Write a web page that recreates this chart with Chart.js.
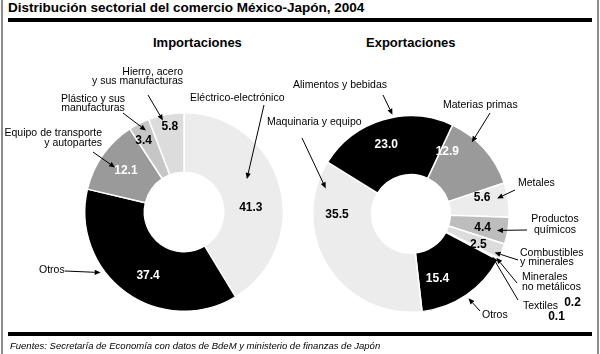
<!DOCTYPE html>
<html lang="es">
<head>
<meta charset="utf-8">
<title>Distribución sectorial del comercio México-Japón, 2004</title>
<script src="https://cdn.jsdelivr.net/npm/chart.js@4.4.1/dist/chart.umd.min.js"></script>
<style>
  html, body { margin: 0; padding: 0; background: #fff; }
  #page { position: relative; width: 600px; height: 354px; overflow: hidden; font-family: "Liberation Sans", Arial, sans-serif; color: #000; }
  #page canvas { position: absolute; left: 0; top: 0; }
  .vline { position: absolute; top: 0; width: 2px; height: 354px; background: #8c8c8c; }
  .rule { position: absolute; left: 8px; width: 584px; height: 4px; background: #000; }
  .txt { position: absolute; white-space: nowrap; line-height: 1; }
  .sub { font-weight: bold; font-size: 13px; top: 36px; }
</style>
</head>
<body>
<div id="page">
  <div class="vline" style="left:1px"></div>
  <div class="vline" style="left:597px"></div>
  <div class="txt" style="left:8px;top:1px;font-weight:bold;font-size:13.5px">Distribución sectorial del comercio México-Japón, 2004</div>
  <div class="rule" style="top:18px"></div>
  <div class="txt sub" style="left:153px">Importaciones</div>
  <div class="txt sub" style="left:366px">Exportaciones</div>
  <canvas id="imp" width="600" height="354"></canvas>
  <canvas id="exp" width="600" height="354"></canvas>
  <div class="rule" style="top:332px"></div>
  <div class="txt" style="left:10px;top:341px;font-style:italic;font-size:9.5px">Fuentes: Secretaría de Economía con datos de BdeM y ministerio de finanzas de Japón</div>
</div>
<script>
// Importaciones, clockwise from 12 o'clock (%)
const impLabels = [
    ['Eléctrico-electrónico'],
    ['Otros'],
    ['Equipo de transporte', 'y autopartes'],
    ['Plástico y sus', 'manufacturas'],
    ['Hierro, acero', 'y sus manufacturas']
]
const impValues = [41.3, 37.4, 12.1, 3.4, 5.8]

// Exportaciones, clockwise (%)
const expLabels = [
    ['Materias primas'],
    ['Metales'],
    ['Productos', 'químicos'],
    ['Combustibles', 'y minerales'],
    ['Minerales', 'no metálicos'],
    ['Textiles'],
    ['Otros'],
    ['Maquinaria y equipo'],
    ['Alimentos y bebidas']
]
const expValues = [12.9, 5.6, 4.4, 2.5, 0.2, 0.1, 15.4, 35.5, 23.0]

const impColors = ['#ececec', '#000000', '#9a9a9a', '#c6c6c6', '#dcdcdc']
const expColors = ['#9a9a9a', '#ececec', '#bdbdbd', '#dcdcdc', '#a8a8a8', '#707070', '#000000', '#ececec', '#000000']

const FONT = '"Liberation Sans", Arial, sans-serif'

// point at the middle angle of an arc, shifted by da degrees, at radius r
function arcPoint(arc, da, r) {
    const p = arc.getProps(['x', 'y', 'startAngle', 'endAngle'], true)
    const a = (p.startAngle + p.endAngle) / 2 + da * Math.PI / 180
    return {x: p.x + r * Math.cos(a), y: p.y + r * Math.sin(a)}
}

function arrow(ctx, x0, y0, x1, y1) {
    const a = Math.atan2(y1 - y0, x1 - x0)
    const len = 6, w = 2.6
    const bx = x1 - len * Math.cos(a), by = y1 - len * Math.sin(a)
    ctx.beginPath()
    ctx.moveTo(x0, y0)
    ctx.lineTo(bx, by)
    ctx.stroke()
    ctx.beginPath()
    ctx.moveTo(x1, y1)
    ctx.lineTo(bx - w * Math.sin(a), by + w * Math.cos(a))
    ctx.lineTo(bx + w * Math.sin(a), by - w * Math.cos(a))
    ctx.closePath()
    ctx.fill()
}

function callouts(layout) {
    return {
        id: 'callouts',
        afterDatasetsDraw(chart) {
            const ctx = chart.ctx
            const arcs = chart.getDatasetMeta(0).data
            const vals = chart.data.datasets[0].data
            const labels = chart.data.labels
            ctx.save()
            ctx.textBaseline = 'middle'
            ctx.textAlign = 'center'
            ctx.font = 'bold 12px ' + FONT
            layout.inside.forEach(s => {
                const p = arcPoint(arcs[s.i], s.da, s.r)
                ctx.fillStyle = s.color
                ctx.fillText(vals[s.i].toFixed(1), p.x, p.y)
            })
            ctx.fillStyle = '#000'
            ctx.strokeStyle = '#000'
            ctx.lineWidth = 1
            layout.notes.forEach(n => {
                ctx.font = '10.5px ' + FONT
                ctx.textAlign = n.align || 'left'
                labels[n.i].forEach((t, k) => ctx.fillText(t, n.x, n.y + k * (n.lh || 10)))
                const tip = arcPoint(arcs[n.i], n.da, n.r)
                arrow(ctx, n.tail[0], n.tail[1], tip.x, tip.y)
                if (n.value) {
                    ctx.font = 'bold 12px ' + FONT
                    ctx.textAlign = 'center'
                    ctx.fillText(vals[n.i].toFixed(1), n.value[0], n.value[1])
                }
            })
            ctx.restore()
        }
    }
}

const impLayout = {
    inside: [
        {i: 0, da: 12, r: 67, color: '#000'},
        {i: 1, da: -6.5, r: 73, color: '#fff'},
        {i: 2, da: 0, r: 71, color: '#fff'},
        {i: 3, da: -2.5, r: 82, color: '#000'},
        {i: 4, da: 1, r: 86, color: '#000'}
    ],
    notes: [
        {i: 0, x: 190, y: 98, tail: [264, 105], da: -12, r: 71},
        {i: 1, x: 39, y: 270, tail: [65, 271], da: 18, r: 103},
        {i: 2, x: 102, y: 133, align: 'right', tail: [93, 152], da: -2.3, r: 82},
        {i: 3, x: 93, y: 99, align: 'center', lh: 9.5, tail: [123, 113], da: 2, r: 90},
        {i: 4, x: 183, y: 72, align: 'right', lh: 9.5, tail: [148, 95], da: -2.5, r: 94}
    ]
}

const expLayout = {
    inside: [
        {i: 0, da: -18, r: 72, color: '#fff'},
        {i: 1, da: -5, r: 73, color: '#000'},
        {i: 2, da: 1, r: 73, color: '#000'},
        {i: 3, da: 2, r: 74, color: '#000'},
        {i: 6, da: 12, r: 70, color: '#fff'},
        {i: 7, da: 32, r: 74, color: '#000'},
        {i: 8, da: -3, r: 74, color: '#fff'}
    ],
    notes: [
        {i: 8, x: 293, y: 85, tail: [383, 95], da: 6, r: 101},
        {i: 7, x: 267, y: 122, tail: [302, 138], da: 49, r: 89},
        {i: 0, x: 443, y: 105, tail: [490, 113], da: -8, r: 94},
        {i: 1, x: 518, y: 183, tail: [515, 190], da: -2, r: 87.5},
        {i: 2, x: 555, y: 219, align: 'center', lh: 11, tail: [527, 230], da: 1, r: 87.5},
        {i: 3, x: 520, y: 253, lh: 9.5, tail: [518, 260], da: 2.4, r: 92},
        {i: 4, x: 522, y: 277, lh: 10, tail: [517, 283], da: 0, r: 96, value: [572.5, 303]},
        {i: 5, x: 523, y: 306, tail: [518, 300], da: 0, r: 92, value: [556.5, 317]},
        {i: 6, x: 482, y: 315, tail: [480, 311], da: 0, r: 102}
    ]
}

function makeChart(id, labels, values, colors, rotation, padding, layout) {
    return new Chart(document.getElementById(id), {
        type: 'doughnut',
        data: {
            labels: labels,
            datasets: [{data: values, backgroundColor: colors, borderColor: '#fff', borderWidth: 1.5}]
        },
        options: {
            responsive: false,
            animation: false,
            rotation: rotation,
            cutout: '40%',
            layout: {padding: padding},
            plugins: {legend: {display: false}, tooltip: {enabled: false}}
        },
        plugins: [callouts(layout)]
    })
}

makeChart('imp', impLabels, impValues, impColors, 0, {left: 84, right: 316, top: 112, bottom: 42}, impLayout)
makeChart('exp', expLabels, expValues, expColors, 25, {left: 312, right: 90, top: 115, bottom: 41}, expLayout)
</script>
</body>
</html>
